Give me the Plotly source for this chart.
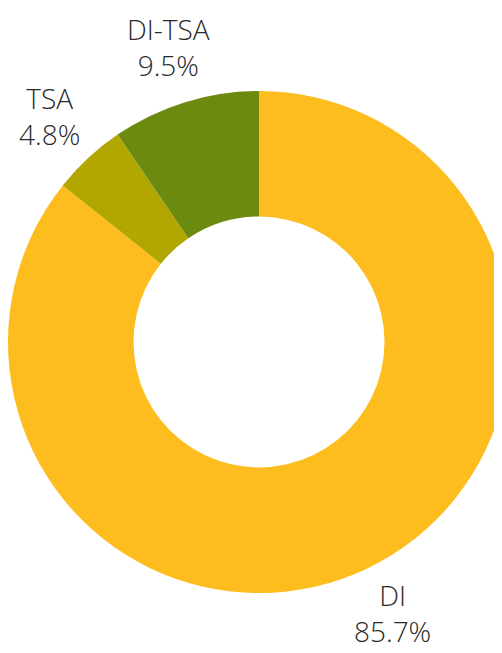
import math
import plotly.graph_objects as go

labels = ["DI", "TSA", "DI-TSA"]
values = [18, 1, 2]
colors = ["#FDBD1E", "#B1A700", "#6C8A10"]

fig = go.Figure(go.Pie(
    labels=labels,
    values=values,
    hole=0.5,
    sort=False,
    direction="clockwise",
    rotation=0,
    marker=dict(colors=colors, line=dict(width=0)),
    textinfo="none",
    showlegend=False,
    hoverinfo="label+percent",
))

# outside labels placed along each slice's mid-angle
total = sum(values)
label_r = 0.614  # label distance from centre, in plot-area units (pie radius = 0.5)
y_min = -0.040   # keep the lowest label fully inside the visible page
annotations = []
cum = 0
for lab, v in zip(labels, values):
    mid = (cum + v / 2) / total
    cum += v
    theta = 2 * math.pi * mid
    annotations.append(dict(
        xref="paper", yref="paper",
        x=0.5 + label_r * math.sin(theta),
        y=max(y_min, 0.5 + label_r * math.cos(theta)),
        xanchor="center", yanchor="middle",
        text=f"{lab}<br>{v / total * 100:.1f}%",
        showarrow=False,
        font=dict(family="Open Sans", size=28, color="#2a2a2a", weight=300),
    ))

fig.update_layout(
    width=502, height=653,
    margin=dict(l=0, r=0, t=83, b=68),
    paper_bgcolor="white",
    plot_bgcolor="white",
    annotations=annotations,
)
fig.write_html("out.html")
